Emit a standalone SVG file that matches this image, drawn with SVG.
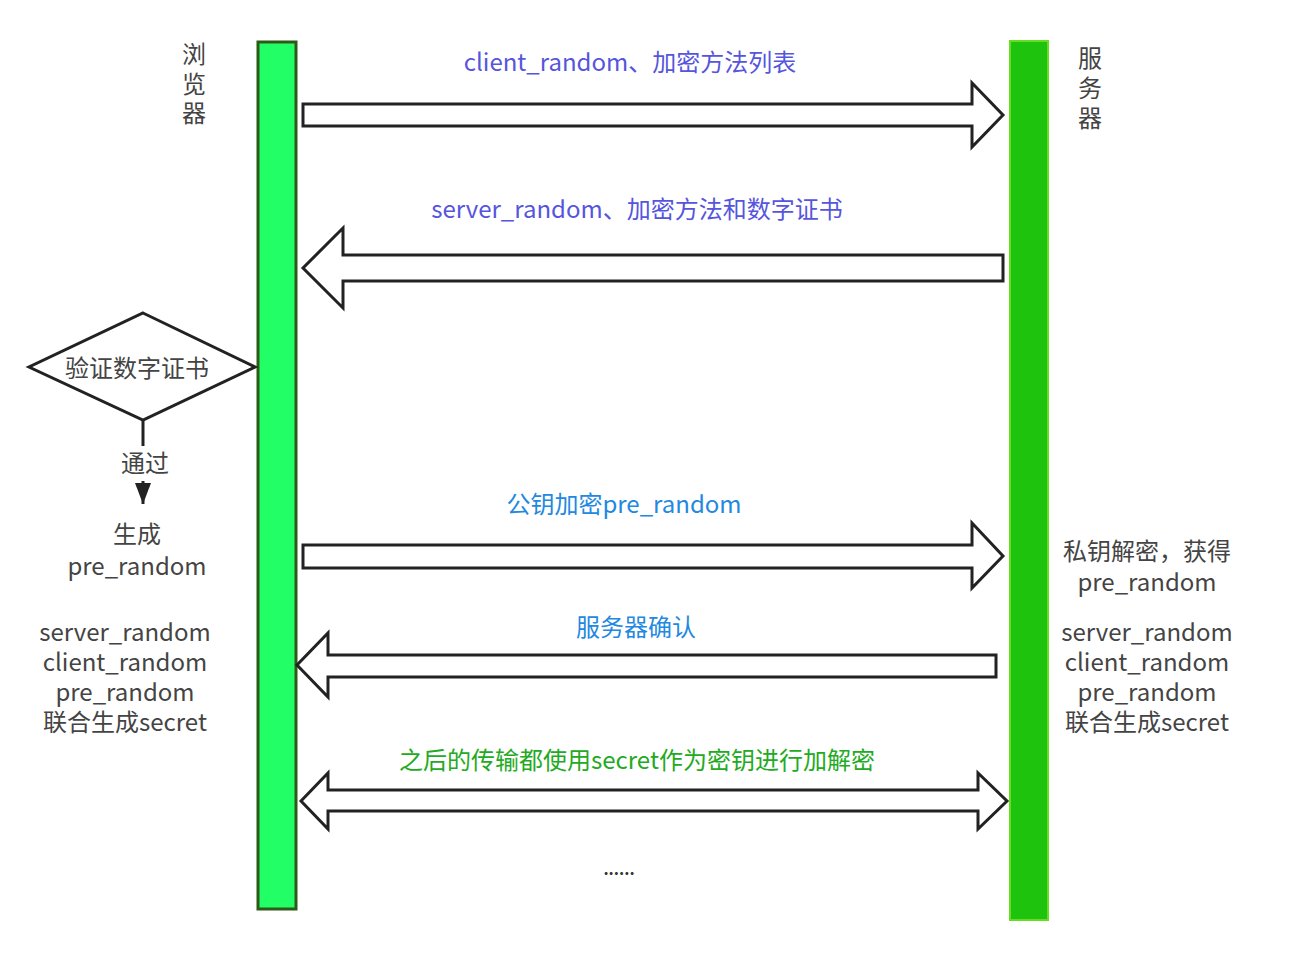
<svg xmlns="http://www.w3.org/2000/svg" width="1290" height="960" viewBox="0 0 1290 960">
<style>
text{font-family:"Noto Sans CJK SC","Noto Sans",sans-serif;font-size:24px;text-anchor:middle;fill:#444}
.arr{fill:#fff;stroke:#222;stroke-width:3;stroke-linejoin:miter}
.blue1{fill:#5555dd}
.blue2{fill:#2288e0}
.green{fill:#22aa22}
</style>
<defs>
<marker id="tri" viewBox="0 0 10 10" refX="10" refY="5" markerWidth="21" markerHeight="16" markerUnits="userSpaceOnUse" orient="auto" preserveAspectRatio="none">
<path d="M0,0 L10,5 L0,10 Z" fill="#222"/>
</marker>
</defs>
<rect width="1290" height="960" fill="#fff"/>
<g id="browser">
<rect x="258" y="42" width="38" height="867" fill="#22ff66" stroke="#2d5a16" stroke-width="3"/>
<text x="194" y="63">浏</text>
<text x="194" y="93">览</text>
<text x="194" y="122">器</text>
</g>
<g id="server">
<rect x="1010" y="41" width="38" height="879" fill="#1ec30e" stroke="#66dd22" stroke-width="2"/>
<text x="1090" y="67">服</text>
<text x="1090" y="97">务</text>
<text x="1090" y="127">器</text>
</g>
<g id="verify">
<polygon points="143,313 255,367 143,420 29,367" fill="#fff" stroke="#222" stroke-width="3"/>
<text x="137" y="377">验证数字证书</text>
</g>
<g id="gen">
<text x="137" y="543">生成</text>
<text x="137" y="575">pre_random</text>
</g>
<g id="browser-secret">
<text x="125" y="641">server_random</text>
<text x="125" y="671">client_random</text>
<text x="125" y="701">pre_random</text>
<text x="125" y="731">联合生成secret</text>
</g>
<g id="server-decrypt">
<text x="1147" y="560">私钥解密，获得</text>
<text x="1147" y="591">pre_random</text>
</g>
<g id="server-secret">
<text x="1147" y="641">server_random</text>
<text x="1147" y="671">client_random</text>
<text x="1147" y="701">pre_random</text>
<text x="1147" y="731">联合生成secret</text>
</g>
<g id="connectors">
<line x1="143" y1="420" x2="143" y2="446" stroke="#222" stroke-width="3"/>
<line x1="143" y1="481" x2="143" y2="504" stroke="#222" stroke-width="3" marker-end="url(#tri)"/>
<text x="145" y="472">通过</text>
<polygon class="arr" points="303,104 972,104 972,83 1003,115 972,147 972,126 303,126"/>
<text class="blue1" x="630" y="71">client_random、加密方法列表</text>
<polygon class="arr" points="1003,255 343,255 343,228 303,268 343,308 343,281 1003,281"/>
<text class="blue1" x="637" y="218">server_random、加密方法和数字证书</text>
<polygon class="arr" points="303,545 972,545 972,523 1003,556 972,588 972,568 303,568"/>
<text class="blue2" x="624" y="513">公钥加密pre_random</text>
<polygon class="arr" points="996,655 328,655 328,633 297,665 328,697 328,677 996,677"/>
<text class="blue2" x="636" y="636">服务器确认</text>
<polygon class="arr" points="301,801 328,773 328,790 978,790 978,773 1007,801 978,829 978,811 328,811 328,829"/>
<text class="green" x="637" y="769">之后的传输都使用secret作为密钥进行加解密</text>
<text x="619" y="875" style="font-size:16px;font-weight:bold;fill:#333">......</text>
</g>
</svg>
